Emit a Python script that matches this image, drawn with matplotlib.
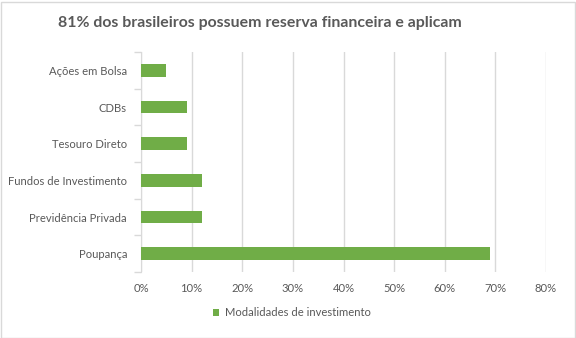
import matplotlib.pyplot as plt
from matplotlib.patches import Rectangle
from matplotlib.ticker import FuncFormatter

categories = ["Poupança", "Previdência Privada", "Fundos de Investimento",
              "Tesouro Direto", "CDBs", "Ações em Bolsa"]
values = [0.69, 0.12, 0.12, 0.09, 0.09, 0.05]
series_name = "Modalidades de investimento"
title = "81% dos brasileiros possuem reserva financeira e aplicam"

green = "#70AD47"
text_c = "#595959"
grid_c = "#D9D9D9"

plt.rcParams["font.family"] = ["Lato", "DejaVu Sans"]

fig = plt.figure(figsize=(5.76, 3.38), dpi=100)
ax = fig.add_axes([141 / 576, 1 - 272 / 338, 405 / 576, 220 / 338])

pos = range(len(categories))
ax.barh(pos, values, height=0.35, color=green, label=series_name, zorder=3)

ax.set_xlim(0, 0.8)
ax.set_ylim(-0.5, len(categories) - 0.5)
ax.set_xticks([i / 10 for i in range(9)])
ax.xaxis.set_major_formatter(FuncFormatter(lambda v, p: f"{v * 100:.0f}%"))
ax.set_yticks(list(pos))
ax.set_yticklabels(categories)
ax.set_yticks([i - 0.5 for i in range(len(categories) + 1)], minor=True)

ax.grid(axis="x", color=grid_c, linewidth=1, zorder=0)
for s in ["top", "right", "bottom"]:
    ax.spines[s].set_visible(False)
ax.spines["left"].set_color(grid_c)
ax.tick_params(axis="x", length=0, labelsize=8.1, labelcolor=text_c, pad=8)
ax.tick_params(axis="y", which="major", length=0, labelsize=8.1, labelcolor=text_c, pad=10)
ax.tick_params(axis="y", which="minor", length=5, color=grid_c, width=1)

fig.text(260 / 576, 1 - 23 / 338, title, ha="center", va="center",
         fontsize=11.4, fontweight="bold", color=text_c)

fig.legend(loc="center", bbox_to_anchor=(292 / 576, 1 - 313 / 338), frameon=False,
           fontsize=8.1, labelcolor=text_c, handlelength=0.5, handleheight=0.5,
           handletextpad=0.5)

fig.patches.append(Rectangle((0.5 / 576, 0.5 / 338), 574 / 576, 336 / 338,
                             transform=fig.transFigure, fill=False,
                             edgecolor=grid_c, linewidth=1))

fig.savefig("out.png", dpi=100)
